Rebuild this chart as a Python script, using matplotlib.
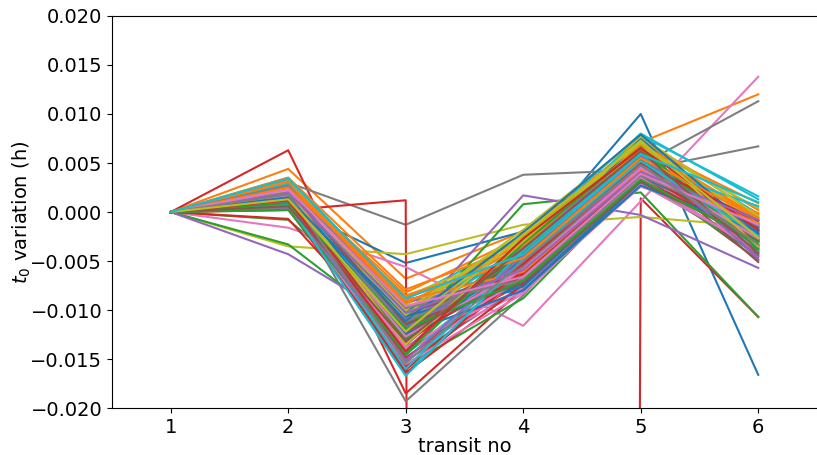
import numpy as np
import matplotlib
matplotlib.use("Agg")
import matplotlib.pyplot as plt

transits = [1, 2, 3, 4, 5, 6]

# t0 variation (h) at each transit, one entry per fitted model (transit 1 is the reference, 0)
t2 = [0.0012, 0.0044, 0.0021, 0.0063, 0.0016, 0.0008, 0.0013, 0.0030, 0.0027, 0.0035,
      0.0005, 0.0023, -0.0008, 0.0002, 0.0019, 0.0011, -0.0016, 0.0018, -0.0035, 0.0031,
      0.0017, 0.0029, -0.0033, -0.0007, -0.0043, 0.0009, 0.0014, 0.0025, 0.0020, 0.0033,
      0.0010, 0.0026, 0.0015, 0.0007, 0.0021, 0.0004, 0.0018, 0.0012, 0.0028, 0.0024,
      0.0014, 0.0032, 0.0006, 0.0011, 0.0022, 0.0016, 0.0009, 0.0027, 0.0019, 0.0013,
      0.0008, 0.0020, 0.0013, 0.0003, 0.0025, 0.0017, 0.0011, 0.0022, 0.0030, 0.0006,
      0.0016, 0.0028, 0.0010, 0.0015, 0.0004, 0.0021, 0.0007, 0.0019, 0.0024, 0.0029,
      0.0012, 0.0035, 0.0018, 0.0009, 0.0026, 0.0014, 0.0020, 0.0005, 0.0023, 0.0017,
      0.0019, 0.0031, 0.0002, 0.0013, 0.0010, 0.0024, 0.0016, 0.0027, 0.0022, 0.0008,
      0.0015, 0.0025, 0.0009, 0.0012, 0.0020, 0.0006, 0.0023, 0.0018, 0.0013, 0.0034]
t3 = [-0.0105, -0.0068, -0.0121, -0.0185, -0.0132, -0.0110, -0.0098, -0.0013, -0.0117, -0.0089,
      -0.0052, -0.0094, -0.0108, 0.0012, -0.0127, -0.0143, -0.0056, -0.0193, -0.0043, -0.0102,
      -0.0116, -0.0082, -0.0125, -0.0139, -0.0115, -0.0128, -0.0148, -0.0104, -0.0095, -0.0113,
      -0.0122, -0.0101, -0.0157, -0.0131, -0.0092, -0.0136, -0.0119, -0.0152, -0.0086, -0.0145,
      -0.0099, -0.0112, -0.0134, -0.0161, -0.0124, -0.0107, -0.0141, -0.0090, -0.0129, -0.0166,
      -0.0118, -0.0087, -0.0146, -0.0158, -0.0109, -0.0123, -0.0137, -0.0097, -0.0111, -0.0150,
      -0.0128, -0.0093, -0.0114, -0.0164, -0.0140, -0.0103, -0.0155, -0.0120, -0.0100, -0.0131,
      -0.0106, -0.0079, -0.0130, -0.0149, -0.0118, -0.0126, -0.0139, -0.0112, -0.0105, -0.0160,
      -0.0124, -0.0090, -0.0144, -0.0133, -0.0151, -0.0114, -0.0127, -0.0098, -0.0135, -0.0167,
      -0.0111, -0.0085, -0.0119, -0.0142, -0.0103, -0.0132, -0.0096, -0.0154, -0.0122, -0.0088]
t4 = [-0.0040, -0.0020, -0.0058, -0.0078, -0.0049, -0.0061, -0.0035, 0.0038, -0.0044, -0.0027,
      -0.0020, -0.0032, -0.0066, -3.0, -0.0053, -0.0070, -0.0116, -0.0085, -0.0013, -0.0039,
      -0.0047, -0.0025, 0.0008, -0.0072, 0.0017, -0.0064, -0.0068, -0.0041, -0.0030, -0.0036,
      -0.0069, -0.0024, -0.0088, -0.0045, -0.0067, -0.0029, -0.0060, -0.0075, -0.0037, -0.0051,
      -0.0079, -0.0055, -0.0028, -0.0063, -0.0038, -0.0050, -0.0081, -0.0059, -0.0043, -0.0034,
      -0.0073, -0.0048, -0.0031, -0.0062, -0.0054, -0.0042, -0.0077, -0.0071, -0.0026, -0.0046,
      -0.0049, -0.0036, -0.0057, -0.0074, -0.0033, -0.0065, -0.0083, -0.0040, -0.0022, -0.0052,
      -0.0076, -0.0034, -0.0043, -0.0060, -0.0052, -0.0046, -0.0068, -0.0056, -0.0018, -0.0039,
      -0.0080, -0.0061, -0.0032, -0.0053, -0.0044, -0.0072, -0.0058, -0.0069, -0.0030, -0.0048,
      -0.0021, -0.0047, -0.0070, -0.0027, -0.0059, -0.0037, -0.0066, -0.0050, -0.0023, -0.0043]
t5 = [0.0100, 0.0071, 0.0052, 0.0040, 0.0061, 0.0043, 0.0055, 0.0043, 0.0066, 0.0080,
      0.0058, 0.0068, 0.0038, 0.0014, 0.0049, 0.0035, 0.0011, 0.0048, -0.0005, 0.0073,
      0.0057, 0.0074, 0.0020, 0.0031, -0.0003, 0.0039, 0.0044, 0.0062, 0.0065, 0.0078,
      0.0046, 0.0070, 0.0033, 0.0053, 0.0036, 0.0059, 0.0042, 0.0029, 0.0069, 0.0050,
      0.0030, 0.0047, 0.0072, 0.0040, 0.0060, 0.0051, 0.0026, 0.0045, 0.0076, 0.0064,
      0.0032, 0.0056, 0.0063, 0.0049, 0.0041, 0.0058, 0.0037, 0.0034, 0.0067, 0.0054,
      0.0075, 0.0064, 0.0052, 0.0034, 0.0061, 0.0039, 0.0028, 0.0051, 0.0070, 0.0047,
      0.0036, 0.0068, 0.0057, 0.0042, 0.0046, 0.0053, 0.0035, 0.0044, 0.0077, 0.0060,
      0.0027, 0.0043, 0.0066, 0.0050, 0.0058, 0.0031, 0.0045, 0.0037, 0.0073, 0.0052,
      0.0079, 0.0055, 0.0033, 0.0065, 0.0041, 0.0062, 0.0039, 0.0048, 0.0071, 0.0059]
t6 = [-0.0166, 0.0120, -0.0021, -0.0019, -0.0034, -0.0028, -0.0012, 0.0067, -0.0008, 0.0013,
      -0.0030, -0.0005, -0.0026, -0.0107, -0.0022, -0.0041, 0.0138, 0.0113, -0.0015, -0.0002,
      -0.0018, 0.0002, -0.0107, -0.0038, -0.0057, -0.0049, -0.0031, -0.0024, -0.0011, 0.0016,
      -0.0027, -0.0010, -0.0044, -0.0016, -0.0006, -0.0035, -0.0020, -0.0039, 0.0004, -0.0029,
      -0.0013, -0.0001, -0.0036, -0.0025, -0.0043, -0.0023, -0.0017, -0.0009, -0.0032, -0.0040,
      -0.0024, -0.0003, -0.0040, -0.0012, -0.0037, -0.0045, -0.0026, -0.0014, -0.0021, -0.0033,
      -0.0030, -0.0007, -0.0019, -0.0028, -0.0048, -0.0015, -0.0036, -0.0022, -0.0011, 0.0006,
      -0.0016, 0.0009, -0.0029, -0.0034, -0.0025, -0.0051, -0.0041, -0.0019, -0.0004, -0.0037,
      -0.0020, -0.0012, -0.0038, -0.0009, -0.0046, -0.0030, -0.0027, -0.0014, -0.0035, -0.0024,
      -0.0022, -0.0006, -0.0031, -0.0018, -0.0008, -0.0042, -0.0013, -0.0033, -0.0026, 0.0010]

plt.rcParams["font.size"] = 14

fig = plt.figure(figsize=(8.17, 4.55), dpi=100)
ax = fig.add_axes([0.137, 0.103, 0.863, 0.862])

for i in range(len(t2)):
    ax.plot(transits, [0.0, t2[i], t3[i], t4[i], t5[i], t6[i]], lw=1.5)

ax.set_xlim(0.5, 6.5)
ax.set_ylim(-0.02, 0.02)
ax.set_xticks(transits)
ax.set_yticks(np.arange(-0.02, 0.0201, 0.005))
ax.spines["right"].set_visible(False)
ax.set_xlabel("transit no", labelpad=0)
ax.set_ylabel("$t_0$ variation (h)", labelpad=-2)

fig.savefig("out.png", dpi=100)
